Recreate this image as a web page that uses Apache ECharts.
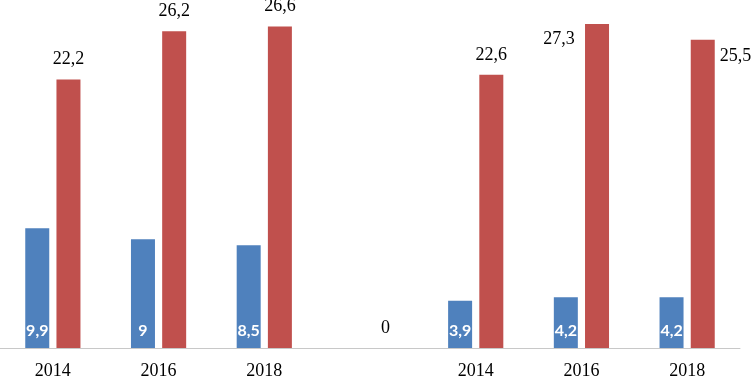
<!DOCTYPE html>
<html>
<head>
<meta charset="utf-8">
<script src="https://cdn.jsdelivr.net/npm/echarts@6/dist/echarts.min.js"></script>
<style>
  html, body { margin: 0; padding: 0; background: #fff; }
  #chart { width: 752px; height: 380px; }
</style>
</head>
<body>
<div id="chart"></div>
<script>
// два блока по годам, между ними пустая категория
const years = ['2014', '2016', '2018', '', '2014', '2016', '2018'];
const blueValues = [9.9, 9, 8.5, null, 3.9, 4.2, 4.2];
const redValues = [22.2, 26.2, 26.6, 0, 22.6, 27.3, 25.5];

const fmt = p => String(p.value).replace('.', ',');

let myChart = echarts.init(document.getElementById('chart'));

myChart.setOption({
  animation: false,
  grid: {
    left: 0,
    right: 12,
    top: 24,
    bottom: 29,
    containLabel: false
  },
  xAxis: {
    type: 'category',
    data: years,
    axisTick: { show: false },
    axisLine: {
      lineStyle: { color: '#c8c8c8', width: 1 }
    },
    axisLabel: {
      color: '#000',
      fontFamily: 'Liberation Serif',
      fontSize: 18,
      margin: 14,
      interval: 0
    }
  },
  yAxis: {
    type: 'value',
    min: 0,
    max: 26.8,
    show: false,
    splitLine: { show: false }
  },
  series: [
    {
      type: 'bar',
      data: blueValues,
      barWidth: 24,
      barGap: '30%',
      itemStyle: { color: '#4f81bd' },
      label: {
        show: true,
        position: 'insideBottom',
        distance: 9,
        color: '#fff',
        fontFamily: 'Lato',
        fontWeight: 'bold',
        fontSize: 16,
        formatter: fmt
      }
    },
    {
      type: 'bar',
      data: redValues.map((v, i) => {
        // 25,5 справа от столбца
        if (i === 6) {
          return {
            value: v,
            label: { position: [29, 17], align: 'left', verticalAlign: 'middle' }
          };
        }
        return v;
      }),
      barWidth: 24,
      itemStyle: { color: '#c0504d' },
      label: {
        show: true,
        position: 'top',
        distance: 11,
        color: '#000',
        fontFamily: 'Liberation Serif',
        fontSize: 18,
        formatter: fmt
      },
      labelLayout: function (params) {
        // 27,3 сдвинута влево от столбца
        if (params.dataIndex === 5) {
          return { dx: -38, dy: 35 };
        }
        return {};
      }
    }
  ]
});
</script>
</body>
</html>
